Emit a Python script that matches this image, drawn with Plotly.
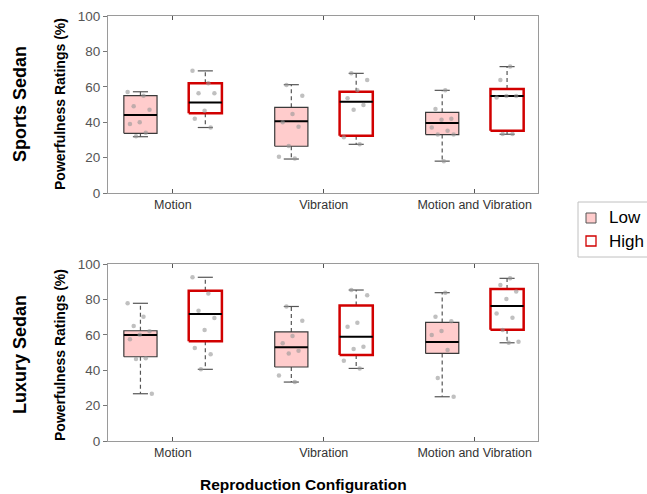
import plotly.graph_objects as go

# ---------------- data ----------------
categories = ["Motion", "Vibration", "Motion and Vibration"]
groups = ["Low", "High"]

# Sports Sedan (top panel): [Motion, Vibration, Motion and Vibration]
sports_low_q1 = [33.7, 26.4, 33.0]
sports_low_med = [44.0, 40.5, 39.5]
sports_low_q3 = [55.0, 48.4, 45.6]
sports_low_wlo = [31.8, 19.2, 18.0]
sports_low_whi = [57.2, 61.2, 58.0]
sports_low_pts = [
    [57, 55, 49, 47, 40, 39, 34, 32],
    [61, 55, 44.6, 40, 37.5, 26.5, 20.5, 19.5],
    [58, 47.5, 42, 41.4, 37, 35.2, 33, 33, 18],
]
sports_high_q1 = [45.0, 32.4, 35.2]
sports_high_med = [51.2, 51.6, 54.8]
sports_high_q3 = [62.0, 57.2, 58.8]
sports_high_wlo = [37.0, 27.5, 33.2]
sports_high_whi = [69.0, 67.6, 71.4]
sports_high_pts = [
    [69, 62, 56.3, 56.3, 46.5, 42, 37],
    [67.6, 63.8, 58, 53.5, 49.7, 47, 31.5, 27.5],
    [71.4, 63.8, 54.8, 54.8, 54, 33.3, 33.3],
]

# Luxury Sedan (bottom panel)
luxury_low_q1 = [47.6, 41.8, 49.5]
luxury_low_med = [59.9, 52.9, 56.0]
luxury_low_q3 = [62.3, 61.6, 67.0]
luxury_low_wlo = [26.7, 33.3, 25.0]
luxury_low_whi = [77.8, 76.0, 83.8]
luxury_low_pts = [
    [77.8, 70.2, 65, 62, 60, 57.5, 46.7, 46.3, 26.7],
    [76, 68, 59.3, 55.2, 51, 49.5, 37, 33.3],
    [83.8, 70.2, 67.6, 62.1, 59.9, 51.4, 35.6, 25],
]
luxury_high_q1 = [56.3, 48.6, 62.9]
luxury_high_med = [71.8, 58.9, 76.3]
luxury_high_q3 = [84.9, 76.5, 85.9]
luxury_high_wlo = [40.5, 41.0, 55.5]
luxury_high_whi = [92.5, 85.3, 91.9]
luxury_high_pts = [
    [92.5, 83.4, 73.6, 69.5, 62.7, 52.5, 49, 40.5],
    [85.3, 82.3, 66.8, 64.6, 53.3, 52, 45.4, 41],
    [91.9, 88.1, 84.4, 80.2, 72.1, 69.7, 62.7, 56.1, 55.5],
]

y_ticks = [0, 20, 40, 60, 80, 100]
panel_titles = ["Sports Sedan", "Luxury Sedan"]
y_title = "Powerfulness Ratings (%)"
x_title = "Reproduction Configuration"

# ---------------- styling ----------------
W, H = 647, 494
OFFSET = 0.215
HALF = 0.11
CAP = 0.05
LOW_FILL = "rgb(255,204,204)"
LOW_LINE = "#3a3a3a"
HIGH_LINE = "#d10000"
WHISK = "#555555"
PT_COLOR = "rgba(150,150,150,0.6)"
AXIS_COLOR = "#9a9a9a"
FONT = "Liberation Sans, Arial, Helvetica, sans-serif"

fig = go.Figure()


def add_group(xaxis, yaxis, q1s, meds, q3s, wlos, whis, pts, off, fill, line, lw):
    for i in range(len(categories)):
        c = i + 1 + off
        # whiskers (dashed)
        fig.add_trace(go.Scatter(
            x=[c, c, None, c, c], y=[q3s[i], whis[i], None, q1s[i], wlos[i]],
            mode="lines", line=dict(color=WHISK, width=1.2, dash="4px,3px"),
            xaxis=xaxis, yaxis=yaxis, showlegend=False, hoverinfo="skip"))
        # caps
        fig.add_trace(go.Scatter(
            x=[c - CAP, c + CAP, None, c - CAP, c + CAP],
            y=[whis[i], whis[i], None, wlos[i], wlos[i]],
            mode="lines", line=dict(color=WHISK, width=1.2),
            xaxis=xaxis, yaxis=yaxis, showlegend=False, hoverinfo="skip"))
        # box
        fig.add_trace(go.Scatter(
            x=[c - HALF, c + HALF, c + HALF, c - HALF, c - HALF],
            y=[q1s[i], q1s[i], q3s[i], q3s[i], q1s[i]],
            mode="lines", fill="toself", fillcolor=fill,
            line=dict(color=line, width=lw),
            xaxis=xaxis, yaxis=yaxis, showlegend=False, hoverinfo="skip"))
        # median
        fig.add_trace(go.Scatter(
            x=[c - HALF, c + HALF], y=[meds[i], meds[i]],
            mode="lines", line=dict(color="black", width=2),
            xaxis=xaxis, yaxis=yaxis, showlegend=False, hoverinfo="skip"))
        # points with deterministic jitter
        vals = pts[i]
        n = len(vals)
        xs = [c + (((k * 0.618 + i * 0.31) % 1.0) - 0.5) * 0.17 for k in range(n)]
        fig.add_trace(go.Scatter(
            x=xs, y=vals, mode="markers",
            marker=dict(color=PT_COLOR, size=4.5),
            xaxis=xaxis, yaxis=yaxis, showlegend=False, hoverinfo="skip"))


add_group("x", "y", sports_low_q1, sports_low_med, sports_low_q3, sports_low_wlo,
          sports_low_whi, sports_low_pts, -OFFSET, LOW_FILL, LOW_LINE, 1.2)
add_group("x", "y", sports_high_q1, sports_high_med, sports_high_q3, sports_high_wlo,
          sports_high_whi, sports_high_pts, OFFSET, "white", HIGH_LINE, 2.5)
add_group("x2", "y2", luxury_low_q1, luxury_low_med, luxury_low_q3, luxury_low_wlo,
          luxury_low_whi, luxury_low_pts, -OFFSET, LOW_FILL, LOW_LINE, 1.2)
add_group("x2", "y2", luxury_high_q1, luxury_high_med, luxury_high_q3, luxury_high_wlo,
          luxury_high_whi, luxury_high_pts, OFFSET, "white", HIGH_LINE, 2.5)

xdom = [108 / W, 538 / W]
top_dom = [(H - 193) / H, (H - 16) / H]
bot_dom = [(H - 441) / H, (H - 264) / H]

xax = dict(domain=xdom, range=[0.57, 3.42], tickvals=[1, 2, 3], ticktext=categories,
           ticks="inside", ticklen=4, tickcolor="#555", showline=True, linecolor=AXIS_COLOR,
           mirror="ticks", showgrid=False, zeroline=False, automargin=False,
           tickfont=dict(size=12.5, color="#333", family=FONT))
yax = dict(range=[0, 100], tickvals=y_ticks, ticks="outside", ticklen=4,
           tickcolor="#777", showline=True, linecolor=AXIS_COLOR, mirror=True,
           showgrid=False, zeroline=False, automargin=False,
           tickfont=dict(size=13.5, color="#555", family=FONT))

fig.update_layout(
    width=W, height=H, margin=dict(l=0, r=0, t=0, b=0, autoexpand=False),
    paper_bgcolor="white", plot_bgcolor="white",
    xaxis=dict(xax, anchor="y"), yaxis=dict(yax, domain=top_dom, anchor="x"),
    xaxis2=dict(xax, anchor="y2"), yaxis2=dict(yax, domain=bot_dom, anchor="x2"),
    showlegend=False,
)


def px(xp):
    return xp / W


def py(yp):
    return (H - yp) / H


# legend (box, swatches, labels) placed in page pixels
shapes = [
    dict(type="rect", xref="paper", yref="paper", x0=px(578), x1=px(660), y0=py(257), y1=py(202),
         line=dict(color="#c0c0c0", width=1), fillcolor="white", layer="above"),
    dict(type="rect", xref="paper", yref="paper", x0=px(586), x1=px(596), y0=py(223), y1=py(213),
         line=dict(color="#555555", width=1), fillcolor=LOW_FILL, layer="above"),
    dict(type="rect", xref="paper", yref="paper", x0=px(586), x1=px(596), y0=py(246), y1=py(236),
         line=dict(color=HIGH_LINE, width=1.3), fillcolor="white", layer="above"),
]

ann = []
for name, yc in zip(groups, [218, 241]):
    ann.append(dict(text=name, x=px(607), y=py(yc), xref="paper", yref="paper",
                    showarrow=False, xanchor="left", yanchor="middle",
                    font=dict(size=17, color="black", family=FONT)))
for title, yc in zip(panel_titles, [104, 355]):
    ann.append(dict(text=f"<b>{title}</b>", x=px(20), y=py(yc), xref="paper", yref="paper",
                    textangle=-90, showarrow=False, xanchor="center", yanchor="middle",
                    font=dict(size=18, color="black", family=FONT)))
for yc in [104, 355]:
    ann.append(dict(text=f"<b>{y_title}</b>", x=px(60), y=py(yc), xref="paper", yref="paper",
                    textangle=-90, showarrow=False, xanchor="center", yanchor="middle",
                    font=dict(size=14, color="black", family=FONT)))
ann.append(dict(text=f"<b>{x_title}</b>", x=px(303), y=py(484), xref="paper", yref="paper",
                showarrow=False, xanchor="center", yanchor="middle",
                font=dict(size=15.5, color="black", family=FONT)))
fig.update_layout(annotations=ann, shapes=shapes)

fig.write_html("out.html")
